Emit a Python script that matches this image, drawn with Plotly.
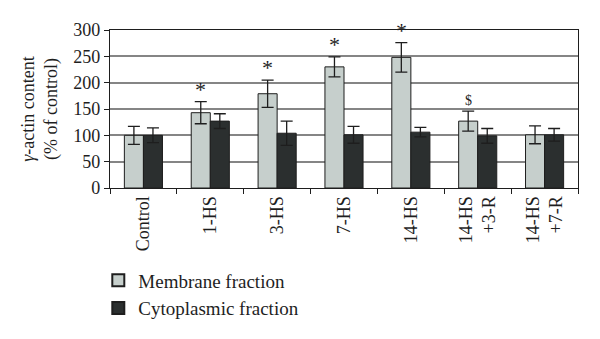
import plotly.graph_objects as go

categories = ["Control", "1-HS", "3-HS", "7-HS", "14-HS", "14-HS<br>+3-R", "14-HS<br>+7-R"]
membrane = [100, 143, 179, 230, 248, 127, 101]
membrane_err = [17, 21, 26, 19, 28, 19, 17]
cytoplasmic = [100, 127, 104, 101, 106, 99, 101]
cytoplasmic_err = [14, 14, 23, 16, 9, 14, 12]
marks = ["", "*", "*", "*", "*", "$", ""]
y_ticks = [0, 50, 100, 150, 200, 250, 300]

FONT = "Liberation Serif"
INK = "#1e1e1e"

fig = go.Figure()
fig.add_trace(go.Bar(
    name="Membrane fraction", x=categories, y=membrane,
    marker=dict(color="#c6cfcc", line=dict(color=INK, width=1)),
    error_y=dict(type="data", array=membrane_err, color=INK, thickness=1.3, width=6),
))
fig.add_trace(go.Bar(
    name="Cytoplasmic fraction", x=categories, y=cytoplasmic,
    marker=dict(color="#2b2f2f", line=dict(color=INK, width=1)),
    error_y=dict(type="data", array=cytoplasmic_err, color=INK, thickness=1.3, width=6),
))

for cat, m, v, e in zip(categories, marks, membrane, membrane_err):
    if m:
        fig.add_annotation(
            x=cat, y=v + e, text=m, showarrow=False, xshift=-9.5,
            yanchor="bottom", yshift=(-2 if m == "*" else 1),
            font=dict(family=FONT, size=(22 if m == "*" else 14), color=INK),
        )

# page body has an 8px margin, so the figure is offset by (8, 8)
fig.update_layout(
    width=600, height=339,
    margin=dict(l=102, r=30, t=22, b=159, autoexpand=False),
    paper_bgcolor="white", plot_bgcolor="white",
    barmode="group", bargap=0.43, bargroupgap=0,
    font=dict(family=FONT, size=17, color=INK),
    showlegend=True,
    legend=dict(
        x=-0.025, y=-0.465, xanchor="left", yanchor="top",
        font=dict(family=FONT, size=19, color=INK),
        tracegroupgap=0, itemsizing="constant",
    ),
    xaxis=dict(
        automargin=False,
        tickangle=-90, ticks="outside", tickson="boundaries", ticklen=5,
        tickcolor=INK, showline=True, linecolor=INK, linewidth=1.3,
        mirror=True, showgrid=False, tickfont=dict(family=FONT, size=18, color=INK),
    ),
    yaxis=dict(
        automargin=False,
        range=[0, 300], tickvals=y_ticks, ticks="outside", ticklen=5, tickcolor=INK,
        showline=True, linecolor=INK, linewidth=1.3, mirror=True,
        showgrid=True, gridcolor="#858585", gridwidth=1.5,
        tickfont=dict(family=FONT, size=18, color=INK),
        title=dict(text="<i>γ</i>-actin content<br>(% of control)",
                   font=dict(family=FONT, size=18, color=INK), standoff=10),
    ),
)

fig.write_html("out.html")
